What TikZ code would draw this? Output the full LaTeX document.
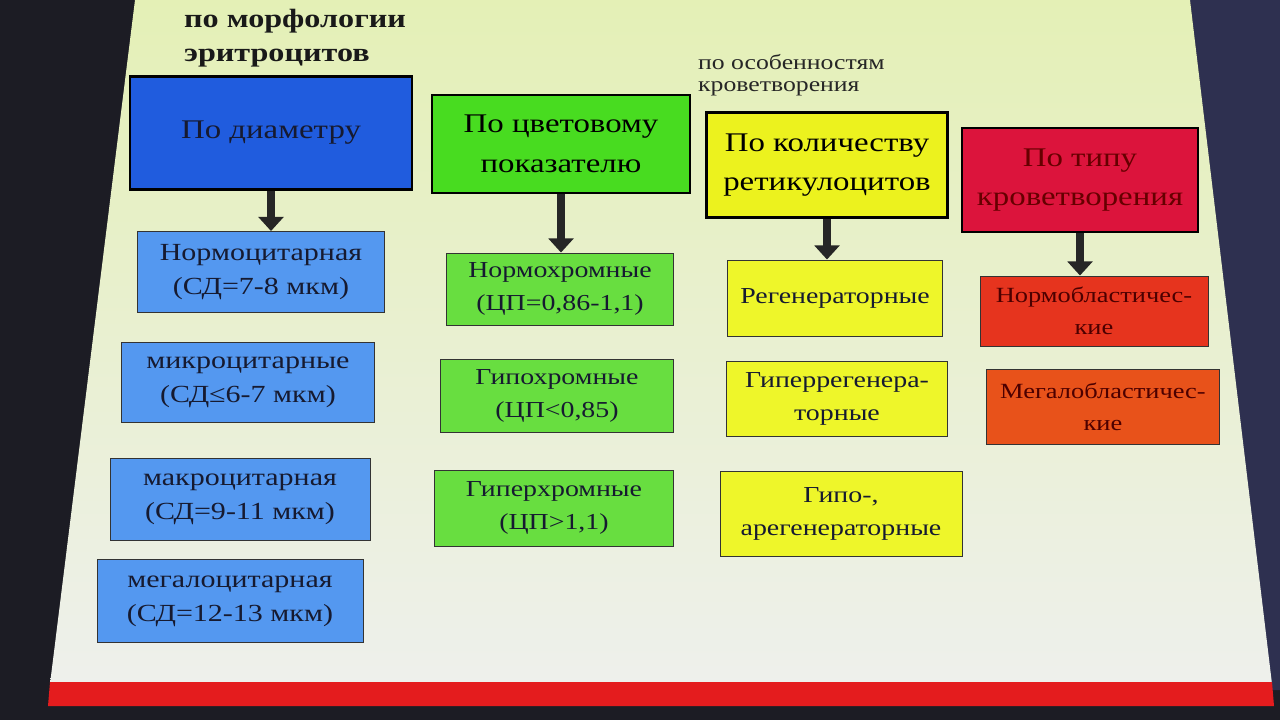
\documentclass[tikz,border=0pt]{standalone}
\usepackage{fontspec}
\setmainfont[FakeStretch=1.22]{Liberation Serif}
\usepackage{xcolor}
\usepackage{tikz}
\usetikzlibrary{arrows.meta,positioning}

\definecolor{frame}{RGB}{28,28,36}
\definecolor{frameright}{RGB}{46,48,80}
\definecolor{slidetop}{RGB}{228,240,182}
\definecolor{slidebot}{RGB}{238,240,236}
\definecolor{band}{RGB}{228,28,30}
\definecolor{hblue}{RGB}{32,92,222}
\definecolor{hgreen}{RGB}{72,220,32}
\definecolor{hyellow}{RGB}{236,242,30}
\definecolor{hred}{RGB}{220,20,60}
\definecolor{sblue}{RGB}{84,152,240}
\definecolor{sgreen}{RGB}{104,222,64}
\definecolor{syellow}{RGB}{238,246,42}
\definecolor{sred}{RGB}{230,52,30}
\definecolor{sorange}{RGB}{232,82,26}
\definecolor{ink}{RGB}{22,26,48}

\begin{document}
\begin{tikzpicture}[x=0.03cm,y=-0.03cm,
		hdr/.style={draw=black, line width=2.2pt, inner sep=2pt, align=center, text=ink,
			font=\fontsize{23}{34}\selectfont},
		sub/.style={draw=black!80, line width=0.8pt, inner sep=2pt, align=center, text=ink,
			font=\fontsize{21}{29}\selectfont},
		small/.style={font=\fontsize{19.5}{28}\selectfont},
		smaller/.style={font=\fontsize{18.5}{27}\selectfont},
		arr/.style={draw=black!85, line width=7pt, -{Triangle[length=12pt,width=21pt]}}]
		\useasboundingbox (0,0) rectangle (1280,720);

		% screen and slide
		\fill[frame] (0,0) rectangle (1280,720);
		\fill[frameright] (1190,0) -- (1280,0) -- (1280,690) -- (1272,690) -- cycle;
		\shade[top color=slidetop, bottom color=slidebot] (135,0) -- (1190,0) -- (1272,684) -- (50,684) -- cycle;
		\fill[band] (50,682) -- (1272,682) -- (1274,706) -- (48,706) -- cycle;

		% titles
		\node[anchor=north west, align=left, text=black!90, font=\bfseries\fontsize{22.5}{29}\selectfont] (morph) at (180,5) {по морфологии\\эритроцитов};
		\node[anchor=north west, align=left, text=black!85, font=\fontsize{18}{19}\selectfont] (feat) at (694,50) {по особенностям\\кроветворения};

		% headers
		\node[hdr, fill=hblue, minimum width=8.46cm, minimum height=3.39cm] (diam) at (271,133) {По диаметру};
		\node[hdr, fill=hgreen, minimum width=7.74cm, minimum height=2.94cm, text=black] (color) at (561,144) {По цветовому\\показателю};
		\node[hdr, fill=hyellow, minimum width=7.23cm, minimum height=3.15cm, text=black] (retic) at (827,165) {По количеству\\ретикулоцитов};
		\node[hdr, fill=hred, minimum width=7.08cm, minimum height=3.12cm, text=red!40!black] (hemat) at (1080,180) {По типу\\кроветворения};

		% by diameter
		\node[sub, fill=sblue, minimum width=7.41cm, minimum height=2.43cm] (normo) at (261,272) {Нормоцитарная\\(СД=7-8 мкм)};
		\node[sub, fill=sblue, minimum width=7.59cm, minimum height=2.40cm] (micro) at (248,382) {микроцитарные\\(СД≤6-7 мкм)};
		\node[sub, fill=sblue, minimum width=7.80cm, minimum height=2.46cm] (macro) at (240,499) {макроцитарная\\(СД=9-11 мкм)};
		\node[sub, fill=sblue, minimum width=7.98cm, minimum height=2.49cm] (megalo) at (230,601) {мегалоцитарная\\(СД=12-13 мкм)};

		% by colour index
		\node[sub, small, fill=sgreen, minimum width=6.81cm, minimum height=2.16cm] (normochr) at (560,289) {Нормохромные\\(ЦП=0,86-1,1)};
		\node[sub, small, fill=sgreen, minimum width=6.99cm, minimum height=2.19cm] (hypochr) at (557,396) {Гипохромные\\(ЦП<0,85)};
		\node[sub, small, fill=sgreen, minimum width=7.17cm, minimum height=2.28cm] (hyperchr) at (554,508) {Гиперхромные\\(ЦП>1,1)};

		% by reticulocytes
		\node[sub, small, fill=syellow, minimum width=6.45cm, minimum height=2.28cm] (regen) at (835,298) {Регенераторные};
		\node[sub, small, fill=syellow, minimum width=6.63cm, minimum height=2.25cm] (hyperreg) at (837,399) {Гиперрегенера-\\торные};
		\node[sub, small, fill=syellow, minimum width=7.26cm, minimum height=2.55cm] (hyporeg) at (841,514) {Гипо-,\\арегенераторные};

		% by haematopoiesis
		\node[sub, smaller, fill=sred, minimum width=6.84cm, minimum height=2.10cm, text=red!30!black] (normobl) at (1094,311) {Нормобластичес-\\кие};
		\node[sub, smaller, fill=sorange, minimum width=6.99cm, minimum height=2.25cm, text=red!30!black] (megalobl) at (1103,407) {Мегалобластичес-\\кие};

		\draw[arr] (diam.south) -- (diam.south |- normo.north);
		\draw[arr] (color.south) -- (color.south |- normochr.north);
		\draw[arr] (retic.south) -- (retic.south |- regen.north);
		\draw[arr] (hemat.south) -- (hemat.south |- normobl.north);
	\end{tikzpicture}
\end{document}
